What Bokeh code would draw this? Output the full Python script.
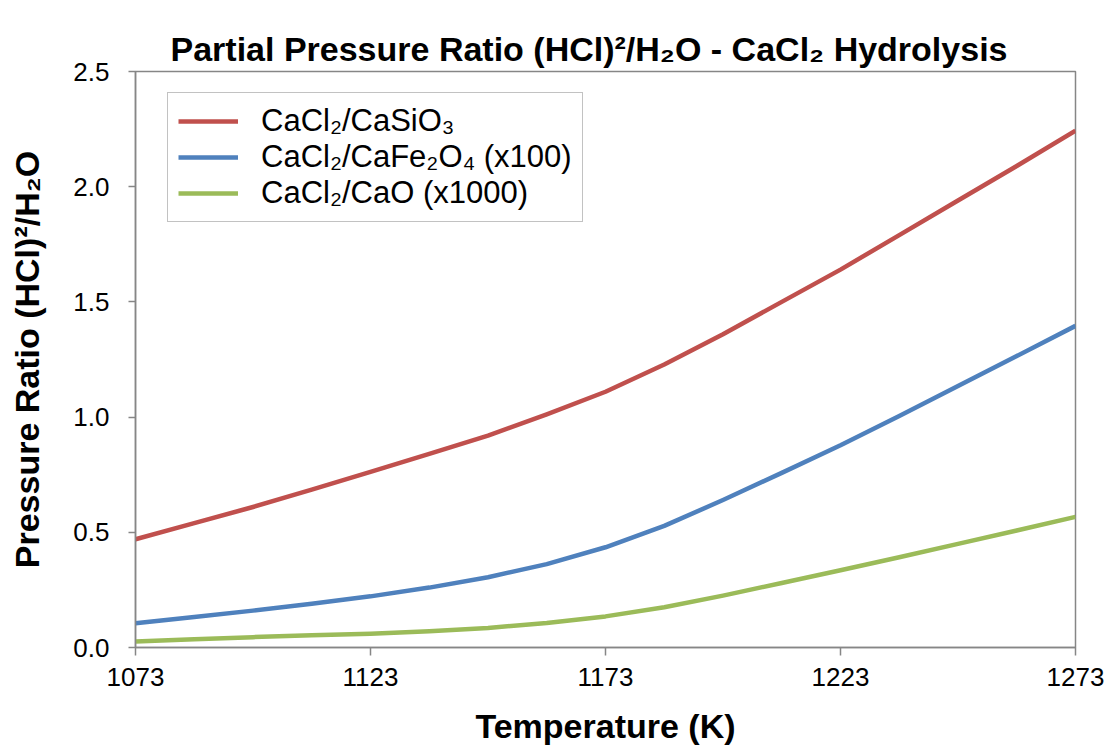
from bokeh.plotting import figure
from bokeh.models import Legend, LegendItem, FixedTicker, NumeralTickFormatter, Range1d
from bokeh.embed import file_html
from bokeh.resources import INLINE

# Data
temperature = [1073, 1085.5, 1098, 1110.5, 1123, 1135.5, 1148, 1160.5, 1173,
               1185.5, 1198, 1210.5, 1223, 1235.5, 1248, 1260.5, 1273]
casio3 = [0.47, 0.54, 0.61, 0.685, 0.762, 0.84, 0.92, 1.012, 1.11,
          1.228, 1.36, 1.50, 1.64, 1.79, 1.94, 2.09, 2.243]
cafe2o4_x100 = [0.105, 0.132, 0.16, 0.19, 0.222, 0.26, 0.305, 0.362, 0.435,
                0.528, 0.64, 0.758, 0.878, 1.005, 1.135, 1.265, 1.396]
cao_x1000 = [0.026, 0.036, 0.045, 0.053, 0.06, 0.07, 0.085, 0.106, 0.135,
             0.175, 0.225, 0.28, 0.335, 0.392, 0.45, 0.508, 0.567]
series_names = ["CaCl\u2082/CaSiO\u2083", "CaCl\u2082/CaFe\u2082O\u2084 (x100)", "CaCl\u2082/CaO (x1000)"]
series_colors = ["#C0504D", "#4F81BD", "#9BBB59"]
x_ticks = [1073, 1123, 1173, 1223, 1273]
y_ticks = [0.0, 0.5, 1.0, 1.5, 2.0, 2.5]
title_text = "Partial Pressure Ratio (HCl)\u00b2/H\u2082O - CaCl\u2082 Hydrolysis"

FONT = "Liberation Sans"
GRAY = "#868686"

p = figure(width=1114, height=756, output_backend="svg", toolbar_location=None,
           x_range=Range1d(1073, 1273), y_range=Range1d(0, 2.5),
           min_border_left=135, min_border_right=39, min_border_top=71, min_border_bottom=109,
           title=title_text)

p.title.text_font = FONT
p.title.text_font_size = "34px"
p.title.text_font_style = "bold"
p.title.text_color = "black"
p.title.align = "left"
p.title.offset = 35
p.title.vertical_align = "top"
p.title.standoff = 4
p.title.text_line_height = 1.8

p.xgrid.visible = False
p.ygrid.visible = False
p.outline_line_color = GRAY
p.outline_line_width = 1.5
p.background_fill_color = "white"
p.border_fill_color = "white"

for ax in (p.xaxis[0], p.yaxis[0]):
    ax.axis_line_color = GRAY
    ax.axis_line_width = 1.5
    ax.major_tick_line_color = GRAY
    ax.major_tick_line_width = 1.5
    ax.minor_tick_line_color = None
    ax.major_tick_in = 0
    ax.major_label_text_font = FONT
    ax.major_label_text_font_size = "26px"
    ax.major_label_text_color = "black"
    ax.axis_label_text_font = FONT
    ax.axis_label_text_font_size = "34px"
    ax.axis_label_text_font_style = "bold"
    ax.axis_label_text_color = "black"

p.xaxis.ticker = FixedTicker(ticks=x_ticks)
p.yaxis.ticker = FixedTicker(ticks=y_ticks)
p.yaxis.formatter = NumeralTickFormatter(format="0.0")
p.xaxis.major_tick_out = 8
p.yaxis.major_tick_out = 7
p.xaxis.major_label_standoff = 12
p.yaxis.major_label_standoff = 19
p.xaxis.axis_label = "Temperature (K)"
p.yaxis.axis_label = "Pressure Ratio (HCl)\u00b2/H\u2082O"
p.xaxis.axis_label_standoff = 18
p.yaxis.axis_label_standoff = 24

renderers = []
for ys, c in zip([casio3, cafe2o4_x100, cao_x1000], series_colors):
    r = p.line(temperature, ys, line_color=c, line_width=4.5, line_join="round")
    renderers.append(r)

legend = Legend(items=[LegendItem(label=n, renderers=[r]) for n, r in zip(series_names, renderers)],
                location=(32, 425))
legend.label_text_font = FONT
legend.label_text_font_size = "31px"
legend.label_text_color = "black"
legend.glyph_width = 60
legend.glyph_height = 30
legend.label_height = 30
legend.label_standoff = 23
legend.spacing = 0
legend.padding = 10
legend.margin = 0
legend.border_line_color = GRAY
legend.border_line_width = 1.5
legend.background_fill_alpha = 1.0
p.add_layout(legend, "center")

open("out.html", "w").write(file_html(p, INLINE))
